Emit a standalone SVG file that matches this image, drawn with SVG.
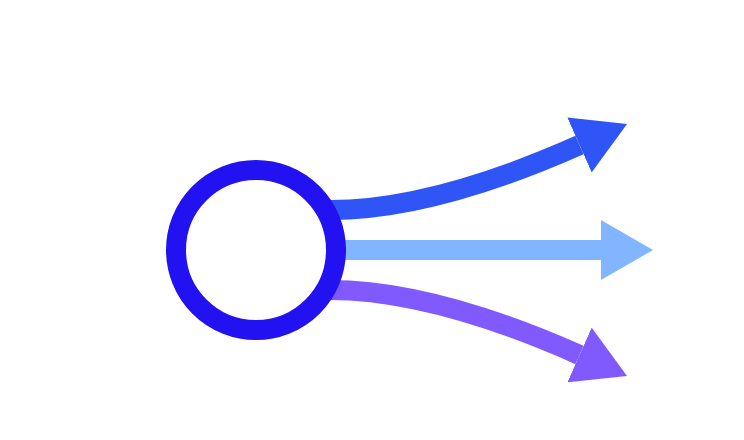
<svg xmlns="http://www.w3.org/2000/svg" width="744" height="440" viewBox="0 0 744 440">
  <style>
    .shaft { fill: none; stroke-width: 20; stroke-linecap: butt; }
    .node { fill: none; stroke: #2211f0; stroke-width: 20; }
  </style>
  <defs>
    <marker id="headTop" viewBox="0 0 52 60" refX="0" refY="30" markerWidth="52" markerHeight="60" markerUnits="userSpaceOnUse" orient="auto">
      <path d="M0,0 L52,30 L0,60 Z" fill="#2f55f7"/>
    </marker>
    <marker id="headMid" viewBox="0 0 52 60" refX="0" refY="30" markerWidth="52" markerHeight="60" markerUnits="userSpaceOnUse" orient="auto">
      <path d="M0,0 L52,30 L0,60 Z" fill="#82b5ff"/>
    </marker>
    <marker id="headBot" viewBox="0 0 52 60" refX="0" refY="30" markerWidth="52" markerHeight="60" markerUnits="userSpaceOnUse" orient="auto">
      <path d="M0,0 L52,30 L0,60 Z" fill="#805aff"/>
    </marker>
  </defs>
  <rect width="744" height="440" fill="#ffffff"/>
  <g id="connectors">
    <path class="shaft" d="M330,210 Q433,210 579.5,145" stroke="#2f55f7" marker-end="url(#headTop)"/>
    <path class="shaft" d="M330,250 L601,250" stroke="#82b5ff" marker-end="url(#headMid)"/>
    <path class="shaft" d="M330,290 Q433,290 579.5,355" stroke="#805aff" marker-end="url(#headBot)"/>
  </g>
  <g id="node-circle">
    <circle class="node" cx="256" cy="250" r="80"/>
  </g>
</svg>
